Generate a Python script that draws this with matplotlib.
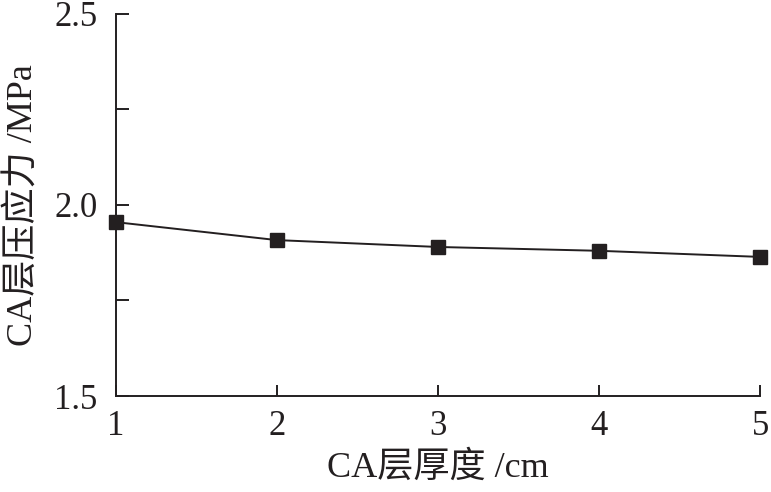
import matplotlib
matplotlib.use("Agg")
import matplotlib.pyplot as plt
from matplotlib.ticker import MultipleLocator

plt.rcParams['font.family'] = ['Liberation Serif', 'Noto Sans CJK SC']
plt.rcParams['mathtext.fontset'] = 'stix'

# ─── Data ─────────────────────────────────────────────────────────────────────
thickness_cm = [1, 2, 3, 4, 5]
stress_mpa = [1.955, 1.908, 1.890, 1.880, 1.864]

x_label = "CA层厚度 /cm"
y_label = "CA层压应力 /MPa"

# ─── Figure ───────────────────────────────────────────────────────────────────
fig = plt.figure(figsize=(7.71, 4.92), dpi=100)
ax = fig.add_axes([0.150, 0.195, 0.836, 0.777])

ax.plot(thickness_cm, stress_mpa, color='#231f20', lw=1.4,
        marker='s', ms=10, mfc='#231f20', mec='#231f20', clip_on=False)

ax.set_xlim(1, 5)
ax.set_ylim(1.5, 2.5)
ax.set_xticks(thickness_cm)
ax.yaxis.set_major_locator(MultipleLocator(0.5))
ax.yaxis.set_minor_locator(MultipleLocator(0.25))
ax.yaxis.set_major_formatter(plt.FormatStrFormatter('%.1f'))

for side in ('top', 'right'):
    ax.spines[side].set_visible(False)
for side in ('left', 'bottom'):
    ax.spines[side].set_linewidth(1.4)
    ax.spines[side].set_color('#231f20')

ax.tick_params(axis='both', which='both', direction='in', width=1.4,
               colors='#231f20', labelsize=25)
ax.tick_params(axis='y', which='both', length=9, pad=13)
ax.tick_params(axis='x', which='major', length=8, pad=10)

ax.set_xlabel(x_label, fontsize=26, color='#231f20', labelpad=6)
ax.set_ylabel(y_label, fontsize=26, color='#231f20', labelpad=10)

fig.savefig("out.png", dpi=100)
